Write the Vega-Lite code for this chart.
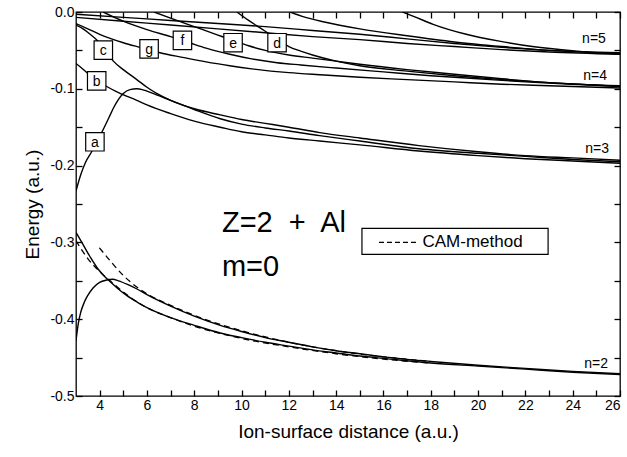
{
"$schema":"https://vega.github.io/schema/vega-lite/v6.json",
"width":544,"height":384,
"autosize":{"type":"none"},
"padding":{"left":76,"top":12,"right":7,"bottom":61},
"background":"white",
"config":{"view":{"stroke":"black","strokeWidth":1.3},"axis":{"domain":false,"ticks":true,"tickColor":"black","tickWidth":1.3,"grid":false,"labelFont":"Liberation Sans","labelFontSize":14,"labelColor":"black","titleFont":"Liberation Sans","titleFontSize":19,"titleFontWeight":"normal","titleColor":"black"}},
"datasets":{
"sol":[
{"c":"U2","x":3,"y":-0.428},{"c":"U2","x":3.1,"y":-0.405},{"c":"U2","x":3.2,"y":-0.391},{"c":"U2","x":3.35,"y":-0.378},{"c":"U2","x":3.5,"y":-0.369},{"c":"U2","x":3.73,"y":-0.359},{"c":"U2","x":4.0,"y":-0.352},{"c":"U2","x":4.3,"y":-0.349},{"c":"U2","x":4.55,"y":-0.348},{"c":"U2","x":4.8,"y":-0.350},{"c":"U2","x":5.2,"y":-0.355},{"c":"U2","x":5.6,"y":-0.361},{"c":"U2","x":6.0,"y":-0.368},{"c":"U2","x":7.0,"y":-0.383},{"c":"U2","x":8.0,"y":-0.396},{"c":"U2","x":9.1,"y":-0.408},{"c":"U2","x":10,"y":-0.416},{"c":"U2","x":11,"y":-0.424},{"c":"U2","x":12,"y":-0.430},{"c":"U2","x":13,"y":-0.436},{"c":"U2","x":14,"y":-0.441},{"c":"U2","x":15,"y":-0.445},{"c":"U2","x":16,"y":-0.449},{"c":"U2","x":18,"y":-0.455},{"c":"U2","x":20,"y":-0.460},{"c":"U2","x":22,"y":-0.464},{"c":"U2","x":24,"y":-0.468},{"c":"U2","x":26,"y":-0.471},
{"c":"D2","x":3,"y":-0.287},{"c":"D2","x":3.3,"y":-0.303},{"c":"D2","x":3.6,"y":-0.319},{"c":"D2","x":3.94,"y":-0.335},{"c":"D2","x":4.2,"y":-0.344},{"c":"D2","x":4.44,"y":-0.351},{"c":"D2","x":4.8,"y":-0.361},{"c":"D2","x":5.14,"y":-0.369},{"c":"D2","x":5.6,"y":-0.378},{"c":"D2","x":6.0,"y":-0.385},{"c":"D2","x":7.0,"y":-0.398},{"c":"D2","x":8.0,"y":-0.408},{"c":"D2","x":9.1,"y":-0.418},{"c":"D2","x":10,"y":-0.424},{"c":"D2","x":11,"y":-0.430},{"c":"D2","x":12,"y":-0.435},{"c":"D2","x":13,"y":-0.440},{"c":"D2","x":14,"y":-0.444},{"c":"D2","x":15,"y":-0.448},{"c":"D2","x":16,"y":-0.451},{"c":"D2","x":18,"y":-0.457},{"c":"D2","x":20,"y":-0.461},{"c":"D2","x":22,"y":-0.465},{"c":"D2","x":24,"y":-0.469},{"c":"D2","x":26,"y":-0.472},
{"c":"a","x":3,"y":-0.233},{"c":"a","x":3.2,"y":-0.212},{"c":"a","x":3.4,"y":-0.196},{"c":"a","x":3.66,"y":-0.182},{"c":"a","x":3.9,"y":-0.168},{"c":"a","x":4.15,"y":-0.153},{"c":"a","x":4.4,"y":-0.137},{"c":"a","x":4.6,"y":-0.124},{"c":"a","x":4.79,"y":-0.114},{"c":"a","x":5.0,"y":-0.106},{"c":"a","x":5.28,"y":-0.101},{"c":"a","x":5.57,"y":-0.100},{"c":"a","x":5.8,"y":-0.101},{"c":"a","x":6.0,"y":-0.103},{"c":"a","x":6.5,"y":-0.109},{"c":"a","x":7.0,"y":-0.115},{"c":"a","x":8.0,"y":-0.127},{"c":"a","x":9.1,"y":-0.139},{"c":"a","x":10,"y":-0.146},{"c":"a","x":11,"y":-0.151},{"c":"a","x":12,"y":-0.155},{"c":"a","x":13.3,"y":-0.161},{"c":"a","x":15,"y":-0.168},{"c":"a","x":17.5,"y":-0.178},{"c":"a","x":20,"y":-0.184},{"c":"a","x":22,"y":-0.188},{"c":"a","x":24,"y":-0.192},{"c":"a","x":26,"y":-0.195},
{"c":"c","x":3,"y":-0.017},{"c":"c","x":3.3,"y":-0.022},{"c":"c","x":3.6,"y":-0.029},{"c":"c","x":3.9,"y":-0.037},{"c":"c","x":4.2,"y":-0.048},{"c":"c","x":4.58,"y":-0.064},{"c":"c","x":5.0,"y":-0.075},{"c":"c","x":5.57,"y":-0.088},{"c":"c","x":6.0,"y":-0.098},{"c":"c","x":6.41,"y":-0.106},{"c":"c","x":7.0,"y":-0.115},{"c":"c","x":7.4,"y":-0.120},{"c":"c","x":8,"y":-0.126},{"c":"c","x":9.1,"y":-0.134},{"c":"c","x":10,"y":-0.140},{"c":"c","x":11,"y":-0.145},{"c":"c","x":12,"y":-0.150},{"c":"c","x":13.3,"y":-0.157},{"c":"c","x":15,"y":-0.164},{"c":"c","x":17.5,"y":-0.174},{"c":"c","x":20,"y":-0.182},{"c":"c","x":22,"y":-0.187},{"c":"c","x":24,"y":-0.190},{"c":"c","x":26,"y":-0.193},
{"c":"b","x":3,"y":-0.067},{"c":"b","x":3.2,"y":-0.072},{"c":"b","x":3.5,"y":-0.080},{"c":"b","x":3.9,"y":-0.089},{"c":"b","x":4.3,"y":-0.097},{"c":"b","x":4.8,"y":-0.105},{"c":"b","x":5.57,"y":-0.115},{"c":"b","x":6.0,"y":-0.121},{"c":"b","x":6.97,"y":-0.132},{"c":"b","x":8,"y":-0.142},{"c":"b","x":9.1,"y":-0.150},{"c":"b","x":10,"y":-0.156},{"c":"b","x":11,"y":-0.160},{"c":"b","x":12,"y":-0.164},{"c":"b","x":13.3,"y":-0.168},{"c":"b","x":15,"y":-0.173},{"c":"b","x":17.5,"y":-0.181},{"c":"b","x":20,"y":-0.187},{"c":"b","x":22,"y":-0.191},{"c":"b","x":24,"y":-0.194},{"c":"b","x":26,"y":-0.197},
{"c":"g","x":3,"y":-0.015},{"c":"g","x":3.5,"y":-0.022},{"c":"g","x":4,"y":-0.029},{"c":"g","x":4.5,"y":-0.035},{"c":"g","x":5,"y":-0.040},{"c":"g","x":5.7,"y":-0.046},{"c":"g","x":6.55,"y":-0.053},{"c":"g","x":7.5,"y":-0.059},{"c":"g","x":8.5,"y":-0.065},{"c":"g","x":9.5,"y":-0.070},{"c":"g","x":10.43,"y":-0.074},{"c":"g","x":12,"y":-0.079},{"c":"g","x":13.5,"y":-0.082},{"c":"g","x":15,"y":-0.085},{"c":"g","x":17,"y":-0.088},{"c":"g","x":19,"y":-0.091},{"c":"g","x":21,"y":-0.094},{"c":"g","x":23,"y":-0.096},{"c":"g","x":26,"y":-0.099},
{"c":"f","x":4.15,"y":0.0},{"c":"f","x":5,"y":-0.012},{"c":"f","x":6,"y":-0.023},{"c":"f","x":7,"y":-0.032},{"c":"f","x":7.8,"y":-0.040},{"c":"f","x":8.5,"y":-0.047},{"c":"f","x":9.5,"y":-0.055},{"c":"f","x":10.43,"y":-0.061},{"c":"f","x":11.5,"y":-0.066},{"c":"f","x":12.5,"y":-0.069},{"c":"f","x":14,"y":-0.073},{"c":"f","x":16,"y":-0.078},{"c":"f","x":18,"y":-0.083},{"c":"f","x":20,"y":-0.087},{"c":"f","x":22,"y":-0.091},{"c":"f","x":24,"y":-0.094},{"c":"f","x":26,"y":-0.097},
{"c":"e","x":6.3,"y":0.0},{"c":"e","x":7,"y":-0.008},{"c":"e","x":8,"y":-0.019},{"c":"e","x":9,"y":-0.030},{"c":"e","x":9.64,"y":-0.037},{"c":"e","x":10.3,"y":-0.044},{"c":"e","x":11,"y":-0.050},{"c":"e","x":12,"y":-0.056},{"c":"e","x":13,"y":-0.060},{"c":"e","x":14,"y":-0.064},{"c":"e","x":15,"y":-0.068},{"c":"e","x":17,"y":-0.075},{"c":"e","x":19,"y":-0.081},{"c":"e","x":21,"y":-0.087},{"c":"e","x":23,"y":-0.092},{"c":"e","x":26,"y":-0.096},
{"c":"d","x":9.8,"y":0.0},{"c":"d","x":10.3,"y":-0.011},{"c":"d","x":10.8,"y":-0.021},{"c":"d","x":11.2,"y":-0.029},{"c":"d","x":11.6,"y":-0.037},{"c":"d","x":12,"y":-0.045},{"c":"d","x":12.5,"y":-0.051},{"c":"d","x":13,"y":-0.056},{"c":"d","x":14,"y":-0.064},{"c":"d","x":15,"y":-0.070},{"c":"d","x":17,"y":-0.077},{"c":"d","x":19,"y":-0.083},{"c":"d","x":21,"y":-0.088},{"c":"d","x":23,"y":-0.092},{"c":"d","x":26,"y":-0.097},
{"c":"T1","x":3,"y":-0.003},{"c":"T1","x":5,"y":-0.007},{"c":"T1","x":7,"y":-0.011},{"c":"T1","x":9,"y":-0.015},{"c":"T1","x":11,"y":-0.019},{"c":"T1","x":13,"y":-0.024},{"c":"T1","x":15,"y":-0.029},{"c":"T1","x":17,"y":-0.035},{"c":"T1","x":19,"y":-0.041},{"c":"T1","x":21,"y":-0.046},{"c":"T1","x":23,"y":-0.050},{"c":"T1","x":26,"y":-0.053},
{"c":"T2","x":3,"y":-0.007},{"c":"T2","x":5,"y":-0.012},{"c":"T2","x":7,"y":-0.017},{"c":"T2","x":9,"y":-0.022},{"c":"T2","x":11,"y":-0.027},{"c":"T2","x":13,"y":-0.032},{"c":"T2","x":15,"y":-0.036},{"c":"T2","x":17,"y":-0.041},{"c":"T2","x":19,"y":-0.045},{"c":"T2","x":21,"y":-0.049},{"c":"T2","x":23,"y":-0.052},{"c":"T2","x":26,"y":-0.055},
{"c":"T3","x":12.05,"y":0.0},{"c":"T3","x":12.6,"y":-0.006},{"c":"T3","x":13.5,"y":-0.013},{"c":"T3","x":15,"y":-0.022},{"c":"T3","x":17,"y":-0.031},{"c":"T3","x":19,"y":-0.039},{"c":"T3","x":21,"y":-0.045},{"c":"T3","x":23,"y":-0.050},{"c":"T3","x":26,"y":-0.054},
{"c":"T4","x":16.8,"y":0.0},{"c":"T4","x":17.3,"y":-0.006},{"c":"T4","x":18.1,"y":-0.016},{"c":"T4","x":19.5,"y":-0.029},{"c":"T4","x":20.9,"y":-0.038},{"c":"T4","x":22.3,"y":-0.045},{"c":"T4","x":24.2,"y":-0.051},{"c":"T4","x":26,"y":-0.055}
],
"cam":[
{"c":"C1","x":3,"y":-0.298},{"c":"C1","x":3.5,"y":-0.321},{"c":"C1","x":4.0,"y":-0.338},{"c":"C1","x":4.44,"y":-0.350},{"c":"C1","x":5.14,"y":-0.368},{"c":"C1","x":6.0,"y":-0.385},{"c":"C1","x":7,"y":-0.398},{"c":"C1","x":8,"y":-0.409},{"c":"C1","x":10,"y":-0.425},{"c":"C1","x":12,"y":-0.436},{"c":"C1","x":14,"y":-0.445},{"c":"C1","x":16,"y":-0.452},{"c":"C1","x":18,"y":-0.457},
{"c":"C2","x":3.99,"y":-0.307},{"c":"C2","x":4.5,"y":-0.326},{"c":"C2","x":5.0,"y":-0.343},{"c":"C2","x":5.7,"y":-0.361},{"c":"C2","x":6.0,"y":-0.367},{"c":"C2","x":7.0,"y":-0.382},{"c":"C2","x":8,"y":-0.395},{"c":"C2","x":10,"y":-0.415},{"c":"C2","x":12,"y":-0.430},{"c":"C2","x":14,"y":-0.441},{"c":"C2","x":16,"y":-0.449},{"c":"C2","x":18,"y":-0.455}
],
"boxes":[
{"t":"a","x":3.80,"y":-0.169},{"t":"b","x":3.875,"y":-0.0896},{"t":"c","x":4.155,"y":-0.0497},{"t":"g","x":6.09,"y":-0.048},{"t":"f","x":7.50,"y":-0.037},{"t":"e","x":9.64,"y":-0.040},{"t":"d","x":11.50,"y":-0.040}
],
"nlab":[
{"t":"n=5","x":24.9,"y":-0.035},{"t":"n=4","x":24.95,"y":-0.083},{"t":"n=3","x":25.03,"y":-0.178},{"t":"n=2","x":24.99,"y":-0.458}
],
"ann":[
{"t":"Z=2\u00a0 +\u00a0 Al","x":9.17,"y":-0.287},{"t":"m=0","x":9.17,"y":-0.344}
]
},
"resolve":{"axis":{"x":"independent","y":"independent"}},
"layer":[
{"data":{"name":"sol"},"mark":{"type":"line","color":"black","strokeWidth":1.4,"interpolate":"monotone","clip":true},
 "encoding":{
  "x":{"field":"x","type":"quantitative","scale":{"domain":[3,26],"nice":false,"zero":false},
   "axis":{"orient":"bottom","title":"Ion-surface distance (a.u.)","values":[4,5,6,7,8,9,10,11,12,13,14,15,16,17,18,19,20,21,22,23,24,25,26],
    "labelExpr":"datum.value % 2 === 0 ? datum.label : ''","tickSize":-6,"labelPadding":8,"titlePadding":10,
    "encode":{"ticks":{"update":{"y2":{"signal":"datum.value % 2 === 0 ? -8 : -4"}}}}}},
  "y":{"field":"y","type":"quantitative","scale":{"domain":[-0.5,0],"nice":false,"zero":false},
   "axis":{"orient":"left","title":"Energy (a.u.)","values":[-0.5,-0.45,-0.4,-0.35,-0.3,-0.25,-0.2,-0.15,-0.1,-0.05,0],
    "labelExpr":"abs(round(datum.value*100)) % 10 === 0 ? replace(format(datum.value,'.1f'),'\u2212','-') : ''","tickSize":-6,"labelPadding":8,"titlePadding":7,
    "encode":{"ticks":{"update":{"x2":{"signal":"abs(round(datum.value*100)) % 10 === 0 ? 8 : 4"}}}}}},
  "detail":{"field":"c"}}},
{"data":{"name":"cam"},"mark":{"type":"line","color":"black","strokeWidth":1.3,"strokeDash":[6,4],"interpolate":"monotone","clip":true},
 "encoding":{
  "x":{"field":"x","type":"quantitative","scale":{"domain":[3,26],"nice":false,"zero":false},
   "axis":{"orient":"top","title":null,"labels":false,"values":[4,5,6,7,8,9,10,11,12,13,14,15,16,17,18,19,20,21,22,23,24,25,26],"tickSize":-6}},
  "y":{"field":"y","type":"quantitative","scale":{"domain":[-0.5,0],"nice":false,"zero":false},
   "axis":{"orient":"right","title":null,"labels":false,"values":[-0.5,-0.45,-0.4,-0.35,-0.3,-0.25,-0.2,-0.15,-0.1,-0.05,0],"tickSize":-6}},
  "detail":{"field":"c"}}},
{"data":{"name":"boxes"},"mark":{"type":"point","shape":"square","size":340,"filled":true,"fill":"white","stroke":"black","strokeWidth":1.2,"opacity":1},
 "encoding":{"x":{"field":"x","type":"quantitative","axis":null},"y":{"field":"y","type":"quantitative","axis":null}}},
{"data":{"name":"boxes"},"mark":{"type":"text","font":"Liberation Sans","fontSize":14,"color":"black","align":"center","baseline":"middle","dy":1},
 "encoding":{"x":{"field":"x","type":"quantitative","axis":null},"y":{"field":"y","type":"quantitative","axis":null},"text":{"field":"t"}}},
{"data":{"name":"nlab"},"mark":{"type":"text","font":"Liberation Sans","fontSize":14,"color":"black","align":"center","baseline":"middle"},
 "encoding":{"x":{"field":"x","type":"quantitative","axis":null},"y":{"field":"y","type":"quantitative","axis":null},"text":{"field":"t"}}},
{"data":{"name":"ann"},"mark":{"type":"text","font":"Liberation Sans","fontSize":29,"color":"black","align":"left","baseline":"alphabetic"},
 "encoding":{"x":{"field":"x","type":"quantitative","axis":null},"y":{"field":"y","type":"quantitative","axis":null},"text":{"field":"t"}}},
{"data":{"values":[{"x":15.09,"x2":22.96,"y":-0.2818,"y2":-0.3156}]},"mark":{"type":"rect","fill":"white","stroke":"black","strokeWidth":1.2},
 "encoding":{"x":{"field":"x","type":"quantitative","axis":null},"x2":{"field":"x2"},"y":{"field":"y","type":"quantitative","axis":null},"y2":{"field":"y2"}}},
{"data":{"values":[{"x":15.81,"x2":17.46,"y":-0.300}]},"mark":{"type":"rule","color":"black","strokeWidth":1.3,"strokeDash":[5,3]},
 "encoding":{"x":{"field":"x","type":"quantitative","axis":null},"x2":{"field":"x2"},"y":{"field":"y","type":"quantitative","axis":null}}},
{"data":{"values":[{"x":17.65,"y":-0.300,"t":"CAM-method"}]},"mark":{"type":"text","font":"Liberation Sans","fontSize":17,"color":"black","align":"left","baseline":"middle"},
 "encoding":{"x":{"field":"x","type":"quantitative","axis":null},"y":{"field":"y","type":"quantitative","axis":null},"text":{"field":"t"}}}
]
}
